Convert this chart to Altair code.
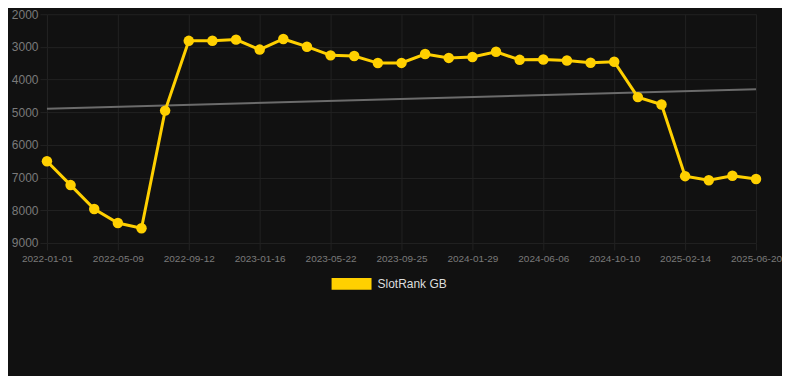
import altair as alt
import pandas as pd

dates = [
    "2022-01-01", "2022-02-12", "2022-03-26", "2022-05-09", "2022-06-20", "2022-08-01",
    "2022-09-12", "2022-10-24", "2022-12-05", "2023-01-16", "2023-02-27", "2023-04-10",
    "2023-05-22", "2023-07-03", "2023-08-14", "2023-09-25", "2023-11-06", "2023-12-18",
    "2024-01-29", "2024-03-11", "2024-04-24", "2024-06-06", "2024-07-18", "2024-08-29",
    "2024-10-10", "2024-11-21", "2025-01-02", "2025-02-14", "2025-03-28", "2025-05-09",
    "2025-06-20",
]
ranks = [
    6500, 7230, 7960, 8390, 8550, 4950,
    2815, 2810, 2777, 3082, 2757, 2993,
    3259, 3278, 3495, 3490, 3219, 3337,
    3308, 3150, 3396, 3386, 3416, 3485,
    3455, 4537, 4763, 6956, 7083, 6946,
    7044,
]
tick_dates = [
    "2022-01-01", "2022-05-09", "2022-09-12", "2023-01-16", "2023-05-22", "2023-09-25",
    "2024-01-29", "2024-06-06", "2024-10-10", "2025-02-14", "2025-06-20",
]
y_ticks = [2000, 3000, 4000, 5000, 6000, 7000, 8000, 9000]
trend_dates = ["2022-01-01", "2025-06-20"]
trend_values = [4890, 4295]
series_name = "SlotRank GB"

df = pd.DataFrame({"date": dates, "rank": ranks, "series": series_name})
trend = pd.DataFrame({"date": trend_dates, "rank": trend_values})

YELLOW = "#FFD000"
GRID = "#222222"
LABEL = "#7a7a7a"
FONT = "Liberation Sans"

x_enc = alt.X(
    "date:O",
    sort=dates,
    scale=alt.Scale(type="point", padding=0, range=[0, 710], domain=dates),
    axis=alt.Axis(
        values=tick_dates, title=None, labelAngle=0, labelFontSize=10,
        labelColor=LABEL, labelFont=FONT, grid=True, gridColor=GRID,
        tickColor=GRID, tickSize=7, labelPadding=4, domain=False,
    ),
)
y_enc = alt.Y(
    "rank:Q",
    scale=alt.Scale(domain=[2000, 9000], reverse=True, nice=False, zero=False),
    axis=alt.Axis(
        values=y_ticks, title=None, labelFontSize=12, labelColor=LABEL,
        labelFont=FONT, grid=True, gridColor=GRID, tickColor=GRID,
        tickSize=7, labelPadding=2, domain=False, format="d", labelOverlap=False,
    ),
)

trend_line = alt.Chart(trend).mark_line(strokeWidth=2, color="#6b6b6b").encode(
    x=x_enc, y=y_enc,
)
line = alt.Chart(df).mark_line(strokeWidth=3, color=YELLOW).encode(
    x=x_enc, y=y_enc,
)
points = alt.Chart(df).mark_point(filled=True, size=110, opacity=1).encode(
    x=x_enc,
    y=y_enc,
    color=alt.Color(
        "series:N",
        scale=alt.Scale(domain=[series_name], range=[YELLOW]),
        legend=alt.Legend(
            title=None, orient="none", legendX=285, legendY=250,
            symbolType="M-1,-0.3L1,-0.3L1,0.3L-1,0.3Z", symbolSize=1600,
            symbolStrokeWidth=0, symbolOpacity=1, symbolFillColor=YELLOW,
            labelFontSize=12, labelColor="#dddddd", labelFont=FONT,
            padding=0, labelOffset=6,
        ),
    ),
)

chart = (
    alt.layer(trend_line, line, points)
    .properties(width=736, height=229, background="#111111",
                padding={"left": 3, "top": 0, "right": 0, "bottom": 86})
    .configure_view(stroke=None)
)
chart.save("out.html", embed_options={"renderer": "svg", "actions": False})
